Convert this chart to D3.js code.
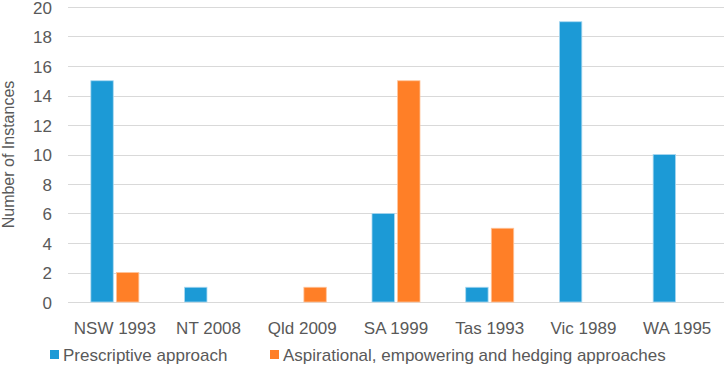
<!DOCTYPE html>
<html><head><meta charset="utf-8">
<script src="https://cdn.jsdelivr.net/npm/d3@7/dist/d3.min.js"></script>
<style>body{margin:0;background:#fff}text{font-family:"Liberation Sans",Arial,sans-serif;fill:#595959}</style>
</head><body><svg id="c" width="725" height="365"></svg>
<script>
const categories = ["NSW 1993","NT 2008","Qld 2009","SA 1999","Tas 1993","Vic 1989","WA 1995"];
const prescriptive = [15,1,0,6,1,19,10];
const aspirational = [2,0,1,15,5,0,0];
const seriesNames = ["Prescriptive approach","Aspirational, empowering and hedging approaches"];
const colors = ["#1c9ad6","#ff7f27"];
const yTicks = [0,2,4,6,8,10,12,14,16,18,20];

(function(){
const svg = d3.select("#c");
const mLeft = 68, mRight = 724, mTop = 7, mBottom = 302;
const FS = "17px";
const x = d3.scaleBand().domain(categories).range([mLeft, mRight]).paddingInner(0).paddingOuter(0);
const x1 = d3.scaleBand().domain([0,1]).range([x.bandwidth()/2-24, x.bandwidth()/2+24]).paddingInner(0.125).paddingOuter(0);
const y = d3.scaleLinear().domain([0,20]).range([mBottom, mTop]);

svg.append("g").selectAll("line").data(yTicks).join("line")
  .attr("x1", mLeft).attr("x2", mRight)
  .attr("y1", d => Math.round(y(d))+0.5).attr("y2", d => Math.round(y(d))+0.5)
  .attr("stroke", "#d9d9d9").attr("stroke-width", 1);

const yAxis = d3.axisLeft(y).tickValues(yTicks).tickSize(0).tickPadding(0);
const ga = svg.append("g").attr("transform", `translate(52,0)`).call(yAxis);
ga.select(".domain").remove();
ga.selectAll("text").attr("dy","0.38em").style("font-size",FS).attr("fill","#595959").style("font-family","'Liberation Sans',Arial,sans-serif");

const data = categories.map((c,i) => ({c, vals:[prescriptive[i], aspirational[i]]}));
const groups = svg.append("g").selectAll("g").data(data).join("g")
  .attr("transform", d => `translate(${x(d.c)},0)`);
groups.selectAll("rect").data(d => d.vals.map((v,k) => ({v,k})).filter(e => e.v > 0)).join("rect")
  .attr("x", e => x1(e.k)).attr("width", x1.bandwidth())
  .attr("y", e => y(e.v)).attr("height", e => y(0) - y(e.v))
  .attr("fill", e => colors[e.k])
  .attr("stroke", e => e.k === 0 ? "#a9d8f0" : "#ffc49a").attr("stroke-width", 0.8);

const xAxis = d3.axisBottom(x).tickSize(0).tickPadding(0);
const gx = svg.append("g").attr("transform", `translate(0,${mBottom+20})`).call(xAxis);
gx.select(".domain").remove();
gx.selectAll("text").style("font-size",FS).attr("fill","#595959").style("font-family","'Liberation Sans',Arial,sans-serif");

svg.append("text").attr("transform", `translate(14,${(mTop+mBottom)/2}) rotate(-90)`)
  .attr("text-anchor","middle").style("font-size","16px").text("Number of Instances");

const legX = [50, 270];
seriesNames.forEach((n,i) => {
  svg.append("rect").attr("x", legX[i]).attr("y", 350).attr("width", 9).attr("height", 9).attr("fill", colors[i]);
  svg.append("text").attr("x", legX[i]+13).attr("y", 361).style("font-size",FS).text(n);
});
})();
</script></body></html>
